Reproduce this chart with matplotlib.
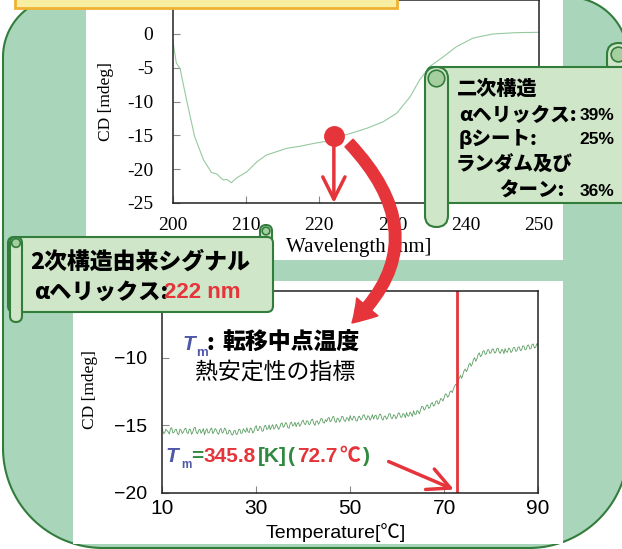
import numpy as np
import matplotlib
matplotlib.use('Agg')
import matplotlib.pyplot as plt
from matplotlib.patches import FancyBboxPatch, FancyArrowPatch, PathPatch, Rectangle, Circle
from matplotlib.path import Path

# CD spectrum (far-UV)
wavelength = [200.0, 200.5, 201.0, 201.9, 203.0, 204.2, 205.3, 206.0, 206.9, 207.4,
              208.0, 208.7, 210.1, 211.5, 212.8, 214.2, 215.6, 217.4, 219.2, 220.8,
              222.0, 223.7, 226.5, 228.7, 230.6, 232.4, 233.7, 235.1, 236.9, 238.7,
              241.0, 243.7, 246.9, 250.0]
cd_wave = [-0.9, -4.3, -5.1, -9.8, -15.2, -18.6, -20.5, -20.7, -21.6, -21.5,
           -22.0, -21.3, -20.4, -18.9, -17.9, -17.4, -16.9, -16.6, -16.2, -15.9,
           -15.1, -14.9, -13.95, -13.0, -11.7, -9.3, -6.8, -4.8, -3.4, -1.9,
           -0.6, 0.0, 0.2, 0.25]
signal_wl = 222.0

# thermal melt monitored at 222 nm, 0.25 degC steps from 10 to 90
temp = np.arange(10.0, 90.01, 0.25)
cd_temp = [
    -15.27, -15.61, -15.57, -15.30, -15.40, -15.49, -15.66, -15.24, -15.19, -15.58,
    -15.52, -15.33, -15.31, -15.64, -15.70, -15.29, -15.36, -15.62, -15.50, -15.28,
    -15.22, -15.55, -15.61, -15.29, -15.33, -15.68, -15.48, -15.21, -15.15, -15.54,
    -15.63, -15.37, -15.29, -15.60, -15.44, -15.25, -15.71, -15.40, -15.26, -15.58,
    -15.55, -15.31, -15.20, -15.63, -15.47, -15.25, -15.35, -15.60, -15.68, -15.33,
    -15.24, -15.57, -15.51, -15.22, -15.30, -15.66, -15.62, -15.35, -15.44, -15.70,
    -15.73, -15.42, -15.38, -15.69, -15.64, -15.33, -15.29, -15.61, -15.58, -15.26,
    -15.41, -15.52, -15.19, -15.48, -15.55, -15.21, -15.27, -15.58, -15.46, -15.17,
    -15.03, -15.40, -15.36, -15.08, -15.14, -15.45, -15.42, -15.06, -15.01, -15.32,
    -15.25, -14.98, -15.33, -15.12, -14.96, -15.29, -15.20, -14.93, -15.09, -15.31,
    -15.18, -14.89, -14.82, -15.15, -15.07, -14.80, -14.90, -15.19, -15.22, -14.86,
    -14.76, -15.06, -14.98, -14.78, -15.11, -14.87, -14.80, -15.08, -14.95, -14.72,
    -14.62, -14.90, -14.95, -14.66, -14.71, -14.97, -14.88, -14.59, -14.55, -14.86,
    -15.02, -14.70, -14.68, -14.93, -14.79, -14.52, -14.50, -14.81, -14.84, -14.58,
    -14.73, -14.49, -14.42, -14.74, -14.66, -14.39, -14.35, -14.70, -14.80, -14.48,
    -14.51, -14.77, -14.60, -14.33, -14.38, -14.68, -14.71, -14.44, -14.47, -14.70,
    -14.28, -14.55, -14.61, -14.32, -14.40, -14.66, -14.69, -14.38, -14.33, -14.60,
    -14.52, -14.26, -14.22, -14.54, -14.58, -14.29, -14.37, -14.63, -14.46, -14.21,
    -14.55, -14.30, -14.25, -14.57, -14.48, -14.19, -14.18, -14.52, -14.62, -14.34,
    -14.31, -14.56, -14.43, -14.16, -14.14, -14.47, -14.50, -14.22, -14.27, -14.53,
    -14.36, -14.08, -14.12, -14.40, -14.41, -14.13, -14.20, -14.44, -14.05, -14.30,
    -14.33, -14.02, -14.15, -14.35, -13.92, -14.18, -14.21, -13.90, -13.97, -14.16,
    -13.85, -13.60, -13.62, -13.88, -13.78, -13.52, -13.49, -13.75, -13.66, -13.38,
    -13.31, -13.58, -13.50, -13.22, -13.18, -13.43, -13.35, -13.02, -13.05, -13.20,
    -12.98, -12.68, -12.70, -12.92, -12.82, -12.52, -12.45, -12.58, -12.30, -12.08,
    -11.95, -12.10, -11.72, -11.48, -11.30, -11.52, -11.25, -10.95, -10.82, -11.02,
    -10.85, -10.52, -10.38, -10.62, -10.45, -10.12, -9.98, -10.25, -10.05, -9.75,
    -9.62, -9.90, -9.82, -9.52, -9.45, -9.73, -9.70, -9.40, -9.38, -9.66,
    -9.62, -9.33, -9.35, -9.64, -9.58, -9.30, -9.28, -9.56, -9.66, -9.37,
    -9.41, -9.68, -9.30, -9.55, -9.57, -9.26, -9.33, -9.60, -9.49, -9.24,
    -9.22, -9.50, -9.48, -9.19, -9.18, -9.45, -9.41, -9.10, -9.12, -9.39,
    -9.35, -9.06, -9.04, -9.33, -9.30, -8.99, -8.96, -9.27, -9.20, -8.94,
    -9.02]
tm_c = 72.7
tm_k = 345.8

# secondary structure content
struct_names = ['αヘリックス:', 'βシート:', 'ターン:']
struct_pct = [39, 25, 36]

wave_xticks = [200, 210, 220, 230, 240, 250]
wave_yticks = [-25, -20, -15, -10, -5, 0]
wave_ylabels = ['-25', '-20', '-15', '-10', '-5', '0']
temp_xticks = [10, 30, 50, 70, 90]
temp_yticks = [-20, -15, -10]
temp_ylabels = ['−20', '−15', '−10']

RED = '#e5343a'
GREEN_TXT = '#2f8a3f'
BLUE = '#4f58a8'
EDGE = '#327d3c'
SCROLL = '#cfe6c8'
CURL = '#a6cf9f'
JP = ['Noto Sans CJK JP', 'DejaVu Sans']
SANS = ['Liberation Sans', 'Noto Sans CJK JP', 'DejaVu Sans']
SERIF = ['Liberation Serif', 'DejaVu Serif']

fig = plt.figure(figsize=(6.22, 5.49), dpi=100)
W, H = 622, 549


def px_axes(z):
    a = fig.add_axes([0, 0, 1, 1], zorder=z)
    a.set_xlim(0, W)
    a.set_ylim(H, 0)
    a.set_facecolor('none')
    a.axis('off')
    return a


def outline(l, t, r, b, rtl, rtr, rbr, rbl, n=40):
    pts = []
    for (cx, cy, R, a0) in [(l + rtl, t + rtl, rtl, 180), (r - rtr, t + rtr, rtr, 270),
                            (r - rbr, b - rbr, rbr, 0), (l + rbl, b - rbl, rbl, 90)]:
        th = np.radians(np.linspace(a0, a0 + 90, n))
        pts += list(zip(cx + R * np.cos(th), cy + R * np.sin(th)))
    pts.append(pts[0])
    return Path(pts, closed=True)


def scroll(a, x0, y0, x1, y1, tube_x, tube_w, tube_bot, roll_x, roll_top):
    # rolled-up end at top right
    a.add_patch(FancyBboxPatch((roll_x, roll_top), tube_w, y0 - roll_top + 8,
                               boxstyle=f'round,pad=0,rounding_size={tube_w / 2}',
                               fc=SCROLL, ec=EDGE, lw=1.5))
    a.add_patch(Circle((roll_x + tube_w / 2, roll_top + tube_w / 2), tube_w * 0.32,
                       fc=CURL, ec=EDGE, lw=1.2))
    # sheet
    a.add_patch(FancyBboxPatch((x0, y0), x1 - x0, y1 - y0,
                               boxstyle='round,pad=0,rounding_size=6',
                               fc=SCROLL, ec=EDGE, lw=1.5))
    # rolled-up end at left
    a.add_patch(FancyBboxPatch((tube_x, y0), tube_w, tube_bot - y0,
                               boxstyle=f'round,pad=0,rounding_size={tube_w / 2}',
                               fc=SCROLL, ec=EDGE, lw=1.5))
    a.add_patch(Circle((tube_x + tube_w / 2, y0 + tube_w / 2), tube_w * 0.36,
                       fc=CURL, ec=EDGE, lw=1.2))


# background frame and white panels
bg = px_axes(0)
bg.add_patch(PathPatch(outline(3, -3, 628, 548, 60, 60, 99, 100),
                       fc='#a9d6ba', ec=EDGE, lw=1.5))
bg.add_patch(Rectangle((86, -5), 563 - 86, 265, fc='white', ec='none'))
bg.add_patch(Rectangle((73, 281), 563 - 73, 544 - 281, fc='white', ec='none'))

# --- CD spectrum ---
ax1 = fig.add_axes([172.7 / W, 1 - 203 / H, (539 - 172.7) / W, (203 - 0.2) / H], zorder=1)
ax1.plot(wavelength, cd_wave, color='#96c9a0', lw=0.8)
dot_y = cd_wave[wavelength.index(signal_wl)]
ax1.plot([signal_wl], [dot_y], 'o', ms=14, color=RED, zorder=5)
ax1.annotate('', xy=(signal_wl, -25), xytext=(signal_wl, dot_y),
             arrowprops=dict(arrowstyle='->,head_length=0.8,head_width=0.4', color=RED,
                             lw=2.5, shrinkA=0, shrinkB=0, mutation_scale=20), zorder=4)
ax1.set_xlim(200, 250)
ax1.set_ylim(-25, 5)
ax1.set_xticks(wave_xticks)
ax1.set_yticks(wave_yticks)
ax1.set_yticklabels(wave_ylabels)
ax1.tick_params(direction='in', length=5, width=0.8, color='#888888', labelsize=14)
ax1.tick_params(axis='y', pad=14)
ax1.tick_params(axis='x', pad=10)
for lab in ax1.get_xticklabels() + ax1.get_yticklabels():
    lab.set_family(SERIF)
for sp in ax1.spines.values():
    sp.set_color('#222222')
    sp.set_linewidth(1.1)
ax1.set_xlabel('Wavelength [nm]', family=SERIF, fontsize=15)
ax1.set_ylabel('CD [mdeg]', family=SERIF, fontsize=12.5)
ax1.xaxis.set_label_coords(0.5086, -0.217)
ax1.xaxis.label.set_va('center')
ax1.yaxis.set_label_coords(-0.182, 0.498)
ax1.yaxis.label.set_va('center')

# --- thermal melt ---
ax2 = fig.add_axes([162.3 / W, 1 - 492.5 / H, (538 - 162.3) / W, (492.5 - 290.7) / H], zorder=1)
ax2.plot(temp, cd_temp, color='#5b9e62', lw=0.6)
ax2.axvline(tm_c, color=RED, lw=2)
ax2.annotate('', xy=(72.1, -19.78), xytext=(58.2, -17.7),
             arrowprops=dict(arrowstyle='->,head_length=0.8,head_width=0.4', color=RED,
                             lw=2.5, shrinkA=0, shrinkB=0, mutation_scale=20))
ax2.set_xlim(10, 90)
ax2.set_ylim(-20, -5)
ax2.set_xticks(temp_xticks)
ax2.set_yticks(temp_yticks)
ax2.set_yticklabels(temp_ylabels)
ax2.tick_params(direction='in', length=5, width=0.8, color='#888888')
ax2.tick_params(axis='y', pad=11, labelsize=14)
ax2.tick_params(axis='x', pad=5, labelsize=15)
for lab in ax2.get_xticklabels() + ax2.get_yticklabels():
    lab.set_family(SANS)
for sp in ax2.spines.values():
    sp.set_color('#222222')
    sp.set_linewidth(1.1)
ax2.set_xlabel('Temperature[℃]', family=SANS, fontsize=14)
ax2.set_ylabel('CD [mdeg]', family=SERIF, fontsize=12.5)
ax2.xaxis.set_label_coords(0.462, -0.196)
ax2.xaxis.label.set_va('center')
ax2.yaxis.set_label_coords(-0.192, 0.508)
ax2.yaxis.label.set_va('center')

# --- overlays: title bar, scrolls, captions ---
fg = px_axes(3)
fg.add_patch(Rectangle((15, -10), 397 - 15, 18, fc='#f8eea2', ec='#f0b232', lw=2))

scroll(fg, 427, 67, 640, 203, 425, 23, 227, 607, 43)
fg.text(457, 89, '二次構造', family=JP, weight='black', fontsize=14.5, va='center')
rows_y = [115, 139, 191]
rows_x = [459, 459, 499]
for name, pct, x, y in zip(struct_names, struct_pct, rows_x, rows_y):
    fg.text(x, y, name, family=JP, weight='black', fontsize=14, va='center')
    fg.text(614, y, f'{pct}%', family=SANS, weight='bold', fontsize=12.5, va='center', ha='right')
fg.text(456, 165, 'ランダム及び', family=JP, weight='black', fontsize=14, va='center')

scroll(fg, 8, 237, 273, 312, 10, 12, 322, 260, 225)
fg.text(30, 262, '2次構造由来シグナル', family=JP, weight='black', fontsize=16.5, va='center')
fg.text(34, 292, 'αヘリックス:', family=JP, weight='black', fontsize=16, va='center')
fg.text(164, 292, f'{signal_wl:.0f} nm', family=SANS, weight='bold', fontsize=16,
        va='center', color=RED)

# curved arrow from the 222 nm point down to the melt panel
bend = Path([(349, 143), (440, 240), (352, 323)], [Path.MOVETO, Path.CURVE3, Path.CURVE3])
fg.add_patch(FancyArrowPatch(path=bend, arrowstyle='simple,head_length=16,head_width=20,tail_width=8',
                             fc=RED, ec=RED, lw=1, mutation_scale=1))

# Tm captions
fg.text(183, 345, 'T', family=SANS, style='italic', weight='bold', fontsize=15, color=BLUE, va='center')
fg.text(196, 353, 'm', family=SANS, weight='bold', fontsize=9.5, color=BLUE, va='center')
fg.text(207, 343, ':', family=JP, weight='black', fontsize=16, va='center')
fg.text(222, 343, '転移中点温度', family=JP, weight='black', fontsize=16.5, va='center')
fg.text(195, 372, '熱安定性の指標', family=JP, fontsize=16.5, va='center')

fg.text(166, 457, 'T', family=SANS, style='italic', weight='bold', fontsize=15, color=BLUE, va='center')
fg.text(181, 465, 'm', family=SANS, weight='bold', fontsize=8.5, color=BLUE, va='center')
parts = [(191, '=', GREEN_TXT), (203, f'{tm_k}', RED), (258, '[K]', GREEN_TXT),
         (288, '(', GREEN_TXT), (297, f'{tm_c}', RED), (339, '℃', RED), (363, ')', GREEN_TXT)]
for x, s, c in parts:
    fg.text(x, 457, s, family=SANS, weight='bold', fontsize=15, color=c, va='center')

fig.savefig('out.png', dpi=100)
